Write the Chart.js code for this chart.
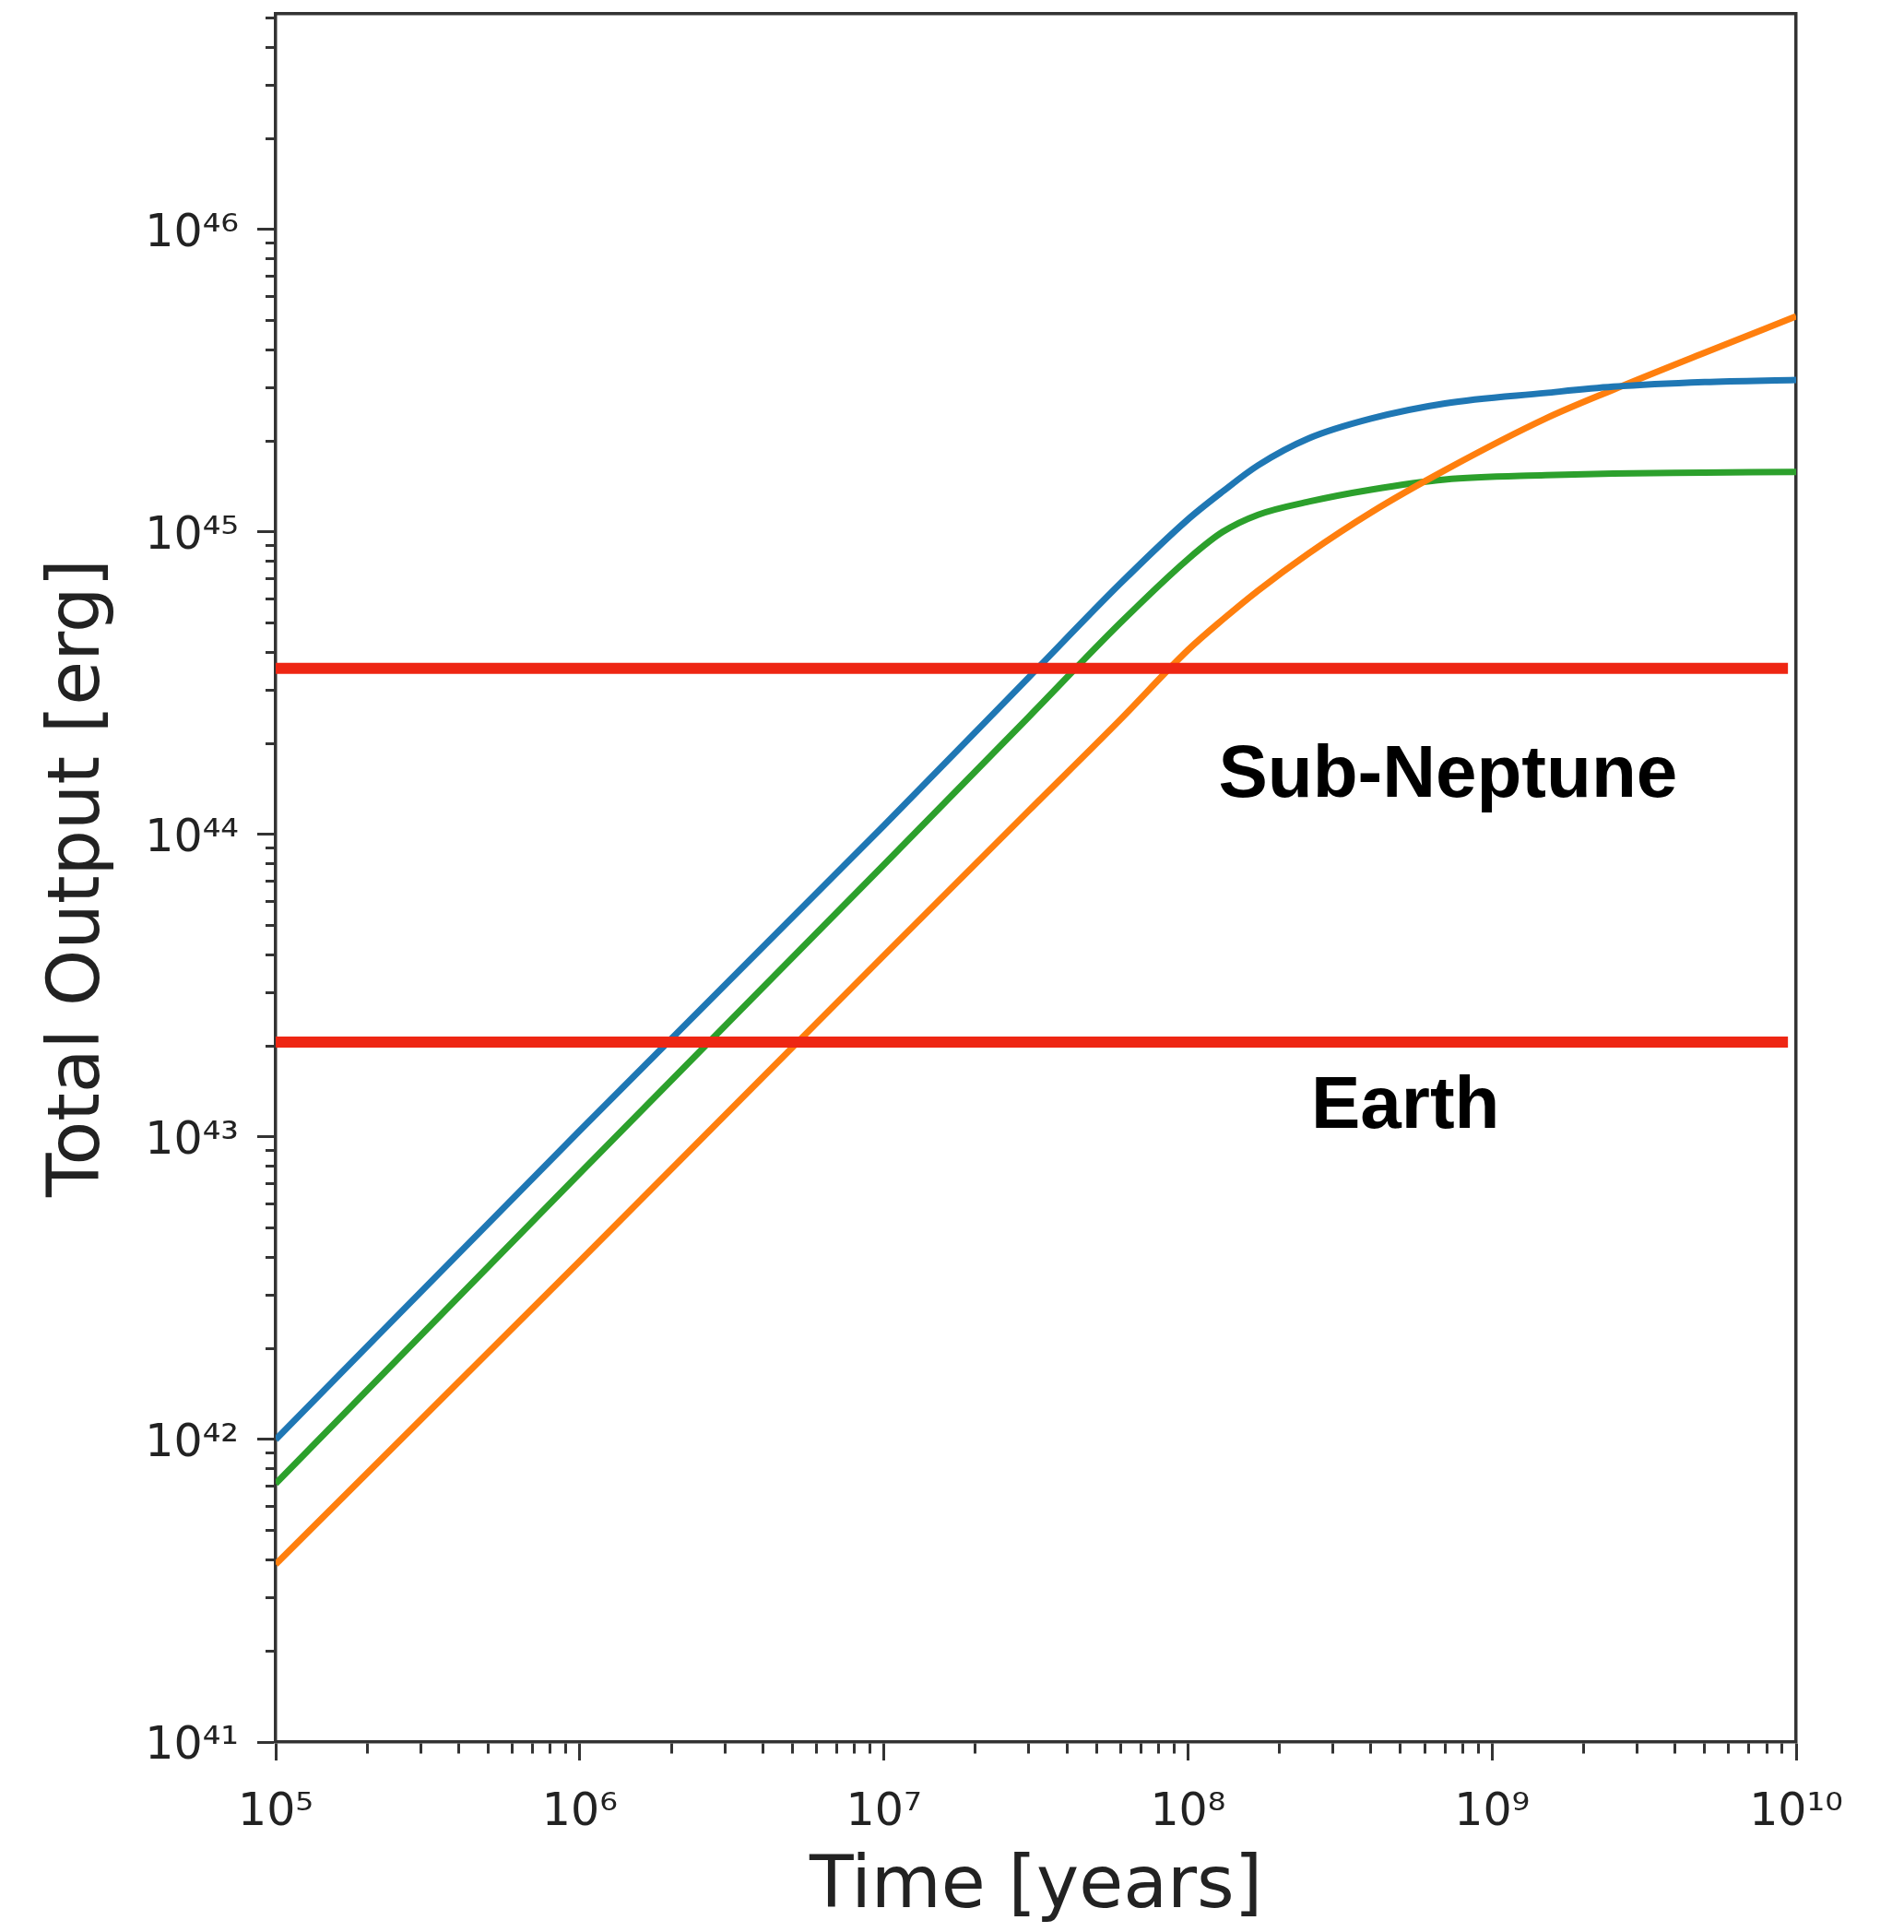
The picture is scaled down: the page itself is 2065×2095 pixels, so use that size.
<!DOCTYPE html>
<html lang="en">
<head>
	<meta charset="UTF-8">
	<title>Total Output</title>
	<script src="https://cdn.jsdelivr.net/npm/chart.js@4"></script>
	<style>
		html,body{margin:0;padding:0;background:#fff;}
		#wrap{width:2065px;height:2095px;}
	</style>
</head>
<body>
	<div id="wrap"><canvas id="outputChart" width="2065" height="2095"></canvas></div>
	<script>
		// values
		var times = [1e5, 1e6, 1e7, 3e7, 6e7, 1e8, 1.3e8, 1.7e8, 2.5e8, 4e8, 7e8, 1.5e9, 2.5e9, 5e9, 1e10];
		var blueOutput = [1.0e42, 1.05e43, 1.07e44, 3.31e44, 6.76e44, 1.10e45, 1.36e45, 1.66e45, 2.04e45, 2.37e45, 2.66e45, 2.88e45, 3.02e45, 3.13e45, 3.18e45];
		var orangeOutput = [3.87e41, 3.89e42, 3.98e43, 1.20e44, 2.40e44, 4.07e44, 5.13e44, 6.40e44, 8.51e44, 1.16e45, 1.60e45, 2.37e45, 2.95e45, 3.91e45, 5.16e45];
		var greenOutput = [7.15e41, 7.59e42, 7.94e43, 2.45e44, 5.01e44, 8.13e44, 1.00e45, 1.14e45, 1.26e45, 1.38e45, 1.49e45, 1.54e45, 1.56e45, 1.57e45, 1.58e45];

		var thresholdTimes = [1e5, 9.4e9];
		var subNeptuneOutput = [3.54e44, 3.54e44];
		var earthOutput = [2.06e43, 2.06e43];

		var xExps = [5, 6, 7, 8, 9, 10];
		var yExps = [41, 42, 43, 44, 45, 46];
		var xMin = 1e5, xMax = 1e10;
		var yMin = 1e41, yMax = 5.16e46;

		var planetLabels = [
			{text: 'Sub-Neptune', x: 1.26e8, y: 1.33e44},
			{text: 'Earth', x: 2.54e8, y: 1.07e43}
		];

		var supDigits = {'0':'\u2070','1':'\u00b9','2':'\u00b2','3':'\u00b3','4':'\u2074','5':'\u2075','6':'\u2076','7':'\u2077','8':'\u2078','9':'\u2079'};

		function isMajor(v){
			var e = Math.log10(v);
			return Math.abs(e - Math.round(e)) < 1e-9;
		}
		function powLabel(v){
			if(!isMajor(v)) return '';
			var e = String(Math.round(Math.log10(v)));
			var s = '10';
			for(var i = 0; i < e.length; i++) s += supDigits[e[i]];
			return s;
		}
		function logTicks(exps, max){
			var out = [];
			exps.forEach(function(e){
				for(var k = 1; k <= 9; k++){
					var v = k * Math.pow(10, e);
					if(v <= max * 1.0001) out.push({value: v, major: k === 1});
				}
			});
			return out;
		}
		function toPoints(xs, ys){
			return xs.map(function(x, i){ return {x: x, y: ys[i]}; });
		}

		Chart.defaults.font.family = '"DejaVu Sans", sans-serif';

		var labelPlugin = {
			id: 'planetLabels',
			afterDatasetsDraw: function(chart){
				var ctx = chart.ctx, xs = chart.scales.x, ys = chart.scales.y;
				ctx.save();
				ctx.font = 'bold 80px "Liberation Sans", Arial, sans-serif';
				ctx.fillStyle = '#000';
				ctx.textAlign = 'left';
				ctx.textBaseline = 'alphabetic';
				planetLabels.forEach(function(l){
					ctx.fillText(l.text, xs.getPixelForValue(l.x), ys.getPixelForValue(l.y));
				});
				ctx.restore();
			}
		};

		function curve(data, color){
			return {data: data, borderColor: color, backgroundColor: color, borderWidth: 7,
				showLine: true, pointRadius: 0, fill: false, cubicInterpolationMode: 'monotone', order: 1};
		}
		function threshold(data){
			return {data: data, borderColor: '#ee2613', backgroundColor: '#ee2613', borderWidth: 12,
				showLine: true, pointRadius: 0, fill: false, order: 0};
		}

		var tickGrid = function(minorDash){
			return {
				drawOnChartArea: false, drawTicks: true, tickLength: 20, tickWidth: 3, tickColor: '#333',
				tickBorderDash: function(c){ return (c.tick && !isMajor(c.tick.value)) ? minorDash : []; }
			};
		};
		var frame = {display: true, color: '#333', width: 3.5};

		// keep the plot box where the reference has it
		function noPad(s){ s.paddingTop = 0; s.paddingBottom = 0; s.paddingLeft = 0; s.paddingRight = 0; }

		new Chart(document.getElementById('outputChart').getContext('2d'), {
			type: 'scatter',
			data: {
				datasets: [
					curve(toPoints(times, blueOutput), '#1f77b4'),
					curve(toPoints(times, orangeOutput), '#ff7f0e'),
					curve(toPoints(times, greenOutput), '#2ca02c'),
					threshold(toPoints(thresholdTimes, subNeptuneOutput)),
					threshold(toPoints(thresholdTimes, earthOutput))
				]
			},
			options: {
				responsive: false,
				devicePixelRatio: 1,
				animation: false,
				layout: {padding: {left: 0, right: 117, top: 15, bottom: 0}},
				plugins: {legend: {display: false}, tooltip: {enabled: false}},
				scales: {
					x: {
						type: 'logarithmic', position: 'bottom', min: xMin, max: xMax,
						afterBuildTicks: function(s){ s.ticks = logTicks(xExps, xMax); },
						afterFit: function(s){ s.height = 206; noPad(s); },
						ticks: {autoSkip: false, maxRotation: 0, padding: 28, color: '#222', font: {size: 49}, callback: powLabel},
						grid: tickGrid([11, 100]),
						border: frame,
						title: {display: true, text: 'Time [years]', color: '#222', font: {size: 78}, padding: {top: 0, bottom: 0}}
					},
					y: {
						type: 'logarithmic', position: 'left', min: yMin, max: yMax,
						afterBuildTicks: function(s){ s.ticks = logTicks(yExps, yMax); },
						afterFit: function(s){ s.width = 299; noPad(s); },
						ticks: {autoSkip: false, padding: 20, labelOffset: 5, color: '#222', font: {size: 49}, callback: powLabel},
						grid: tickGrid([0, 9, 11, 100]),
						border: frame,
						title: {display: true, text: 'Total Output [erg]', color: '#222', font: {size: 78}, padding: {top: 40, bottom: 0}}
					},
					x2: {
						type: 'logarithmic', position: 'top', min: xMin, max: xMax,
						afterFit: function(s){ s.height = 0; noPad(s); },
						ticks: {display: false}, grid: {display: false, drawTicks: false}, border: frame
					},
					y2: {
						type: 'logarithmic', position: 'right', min: yMin, max: yMax,
						afterFit: function(s){ s.width = 0; noPad(s); },
						ticks: {display: false}, grid: {display: false, drawTicks: false}, border: frame
					}
				}
			},
			plugins: [labelPlugin]
		});
	</script>
</body>
</html>
